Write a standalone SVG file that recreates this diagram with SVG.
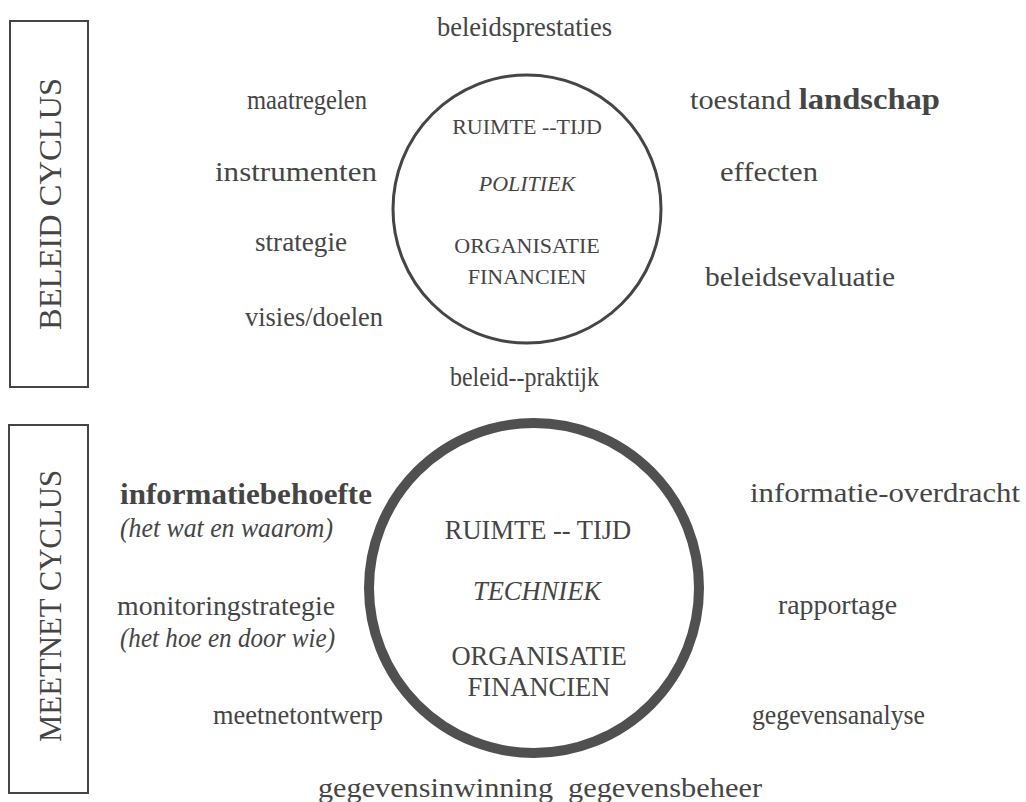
<svg xmlns="http://www.w3.org/2000/svg" width="1026" height="802" viewBox="0 0 1026 802">
<style>
text{font-family:"Liberation Serif","DejaVu Serif",serif;fill:#454545;font-size:27px}
.c{text-anchor:middle}
.s{font-size:22px}
.m{font-size:26.5px}
.v{font-size:32px}
.i{font-style:italic}
.b{font-weight:bold;font-size:29px}
.box{fill:none;stroke:#454545;stroke-width:2}
</style>
<rect width="1026" height="802" fill="#fff"/>
<g id="beleid-box">
<rect class="box" x="10" y="21" width="78" height="366"/>
<text class="c v" transform="translate(61 204) rotate(-90)" textLength="252" lengthAdjust="spacingAndGlyphs">BELEID CYCLUS</text>
</g>
<g id="meetnet-box">
<rect class="box" x="9" y="425" width="79" height="368"/>
<text class="c v" transform="translate(61 606) rotate(-90)" textLength="272" lengthAdjust="spacingAndGlyphs">MEETNET CYCLUS</text>
</g>
<g id="politiek-circle">
<circle cx="527" cy="209" r="134" fill="none" stroke="#454545" stroke-width="3"/>
<text class="c s" x="527" y="134">RUIMTE --TIJD</text>
<text class="c s i" x="527" y="191">POLITIEK</text>
<text class="c s" x="527" y="253">ORGANISATIE</text>
<text class="c s" x="527" y="284">FINANCIEN</text>
</g>
<g id="techniek-circle">
<circle cx="534" cy="588" r="165" fill="none" stroke="#505050" stroke-width="10"/>
<text class="c m" x="538" y="539">RUIMTE -- TIJD</text>
<text class="c m i" x="537" y="600">TECHNIEK</text>
<text class="c m" x="539" y="665">ORGANISATIE</text>
<text class="c m" x="539" y="696">FINANCIEN</text>
</g>
<g id="beleid-labels">
<text class="c" x="524.5" y="36" textLength="175" lengthAdjust="spacingAndGlyphs">beleidsprestaties</text>
<text class="c" x="307" y="109" textLength="120" lengthAdjust="spacingAndGlyphs">maatregelen</text>
<text class="c" x="815" y="109" textLength="250" lengthAdjust="spacingAndGlyphs">toestand <tspan class="b">landschap</tspan></text>
<text class="c" x="296" y="181" textLength="162" lengthAdjust="spacingAndGlyphs">instrumenten</text>
<text class="c" x="769" y="181" textLength="98" lengthAdjust="spacingAndGlyphs">effecten</text>
<text class="c" x="301" y="251" textLength="92" lengthAdjust="spacingAndGlyphs">strategie</text>
<text class="c" x="800" y="286" textLength="190" lengthAdjust="spacingAndGlyphs">beleidsevaluatie</text>
<text class="c" x="314" y="326" textLength="138" lengthAdjust="spacingAndGlyphs">visies/doelen</text>
<text class="c" x="524.5" y="386" textLength="149" lengthAdjust="spacingAndGlyphs">beleid--praktijk</text>
</g>
<g id="meetnet-labels">
<text class="b" x="120" y="504" textLength="252" lengthAdjust="spacingAndGlyphs">informatiebehoefte</text>
<text class="i" x="120" y="537" textLength="213" lengthAdjust="spacingAndGlyphs">(het wat en waarom)</text>
<text class="c" x="885" y="502" textLength="270" lengthAdjust="spacingAndGlyphs">informatie-overdracht</text>
<text x="117" y="615" textLength="218" lengthAdjust="spacingAndGlyphs">monitoringstrategie</text>
<text class="i" x="120" y="647" textLength="215" lengthAdjust="spacingAndGlyphs">(het hoe en door wie)</text>
<text class="c" x="837.5" y="614" textLength="119" lengthAdjust="spacingAndGlyphs">rapportage</text>
<text class="c" x="298" y="724" textLength="170" lengthAdjust="spacingAndGlyphs">meetnetontwerp</text>
<text class="c" x="838.5" y="724" textLength="173" lengthAdjust="spacingAndGlyphs">gegevensanalyse</text>
<text class="c" x="435.5" y="797" textLength="235" lengthAdjust="spacingAndGlyphs">gegevensinwinning</text>
<text class="c" x="665" y="797" textLength="194" lengthAdjust="spacingAndGlyphs">gegevensbeheer</text>
</g>
<g id="connectors"></g>
</svg>
